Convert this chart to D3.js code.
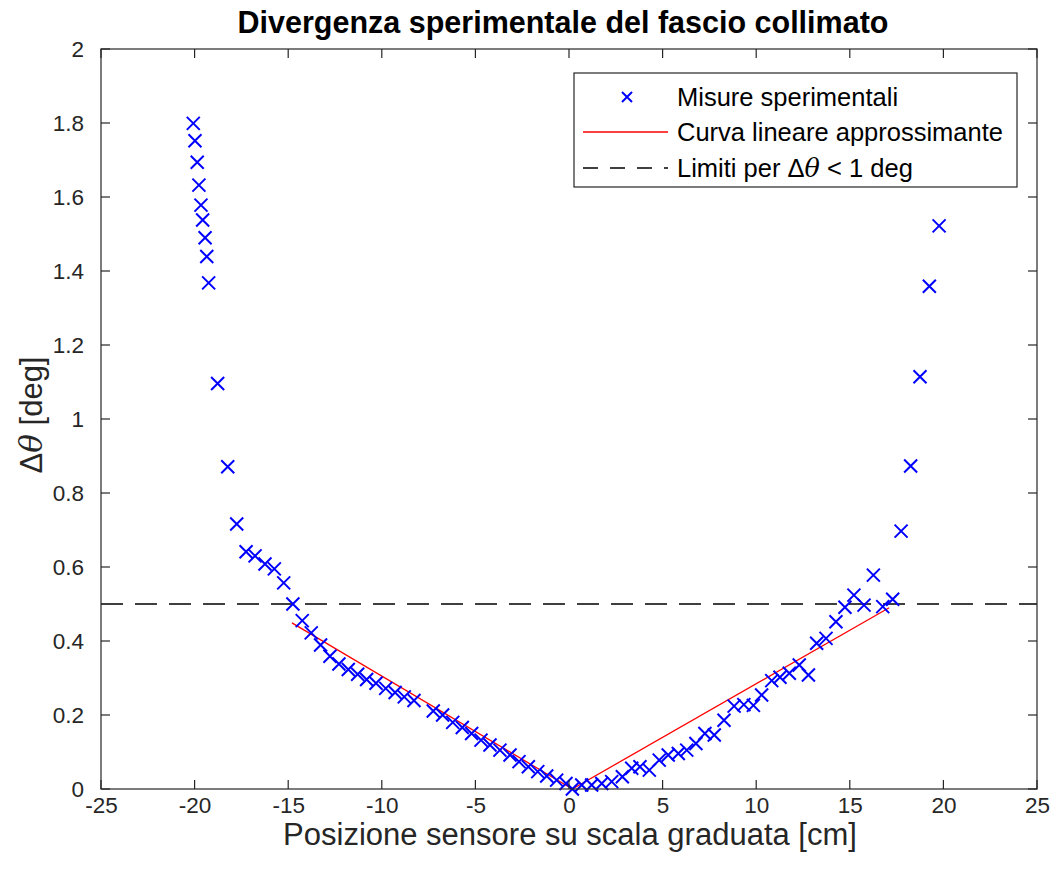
<!DOCTYPE html>
<html><head><meta charset="utf-8">
<script src="https://cdn.jsdelivr.net/npm/d3@7"></script>
<style>body{margin:0;background:#fff;} svg{display:block;}</style>
</head><body>
<svg id="chart" width="1060" height="879"></svg>
<script>
// Data
const posX = [-20.07,-19.98,-19.86,-19.77,-19.66,-19.57,-19.44,-19.35,-19.25,-18.77,-18.23,-17.75,-17.25,-16.77,-16.24,-15.74,-15.24,
  -14.75,-14.25,-13.77,-13.27,-12.77,-12.29,-11.79,-11.29,-10.81,-10.31,-9.79,-9.29,-8.80,-8.28,-7.25,-6.75,-6.21,-5.70,-5.20,-4.70,-4.22,-3.69,-3.15,-2.67,-2.17,-1.67,-1.19,-0.66,-0.16,
  0.18,0.68,1.21,1.75,2.28,2.85,3.35,3.79,4.29,4.82,5.30,5.84,6.29,6.78,7.26,7.76,8.28,8.82,9.34,9.85,10.29,10.83,11.27,11.77,12.30,12.79,13.23,13.73,14.26,14.74,15.22,15.76,16.26,16.76,17.29,17.74,18.25,18.75,19.25,19.77];
const dTheta = [1.799,1.752,1.694,1.632,1.578,1.538,1.490,1.439,1.368,1.096,0.871,0.716,0.641,0.630,0.608,0.595,0.557,
  0.500,0.455,0.422,0.389,0.359,0.338,0.323,0.310,0.296,0.286,0.272,0.261,0.249,0.239,0.211,0.200,0.180,0.166,0.150,0.132,0.119,0.105,0.092,0.074,0.060,0.047,0.035,0.024,0.015,
  0.000,0.011,0.011,0.015,0.020,0.033,0.056,0.060,0.051,0.078,0.092,0.096,0.105,0.123,0.150,0.146,0.186,0.224,0.228,0.226,0.254,0.293,0.302,0.313,0.335,0.308,0.394,0.407,0.452,0.491,0.524,0.497,0.578,0.493,0.513,0.697,0.873,1.114,1.359,1.522];
const fitLeftX = [-14.8, 0.18];
const fitLeftY = [0.449, 0.0];
const fitRightX = [0.18, 17.1];
const fitRightY = [0.0, 0.49];
const limitY = 0.5;
const xTicks = [-25,-20,-15,-10,-5,0,5,10,15,20,25];
const xTickLabels = ["-25","-20","-15","-10","-5","0","5","10","15","20","25"];
const yTicks = [0,0.2,0.4,0.6,0.8,1,1.2,1.4,1.6,1.8,2];
const yTickLabels = ["0","0.2","0.4","0.6","0.8","1","1.2","1.4","1.6","1.8","2"];
const titleText = "Divergenza sperimentale del fascio collimato";
const xLabel = "Posizione sensore su scala graduata [cm]";
const legendLabels = ["Misure sperimentali","Curva lineare approssimante","Limiti per "];

const svg = d3.select("#chart");
const L = 101, R = 1037, T = 49, B = 789;
const x = d3.scaleLinear().domain([-25,25]).range([L,R]);
const y = d3.scaleLinear().domain([0,2]).range([B,T]);
const axisColor = "#262626";
const font = "'Liberation Sans', Arial, sans-serif";

// dashed limit line
svg.append("line").attr("x1",x(-25)).attr("x2",x(25)).attr("y1",y(limitY)).attr("y2",y(limitY))
  .attr("stroke","#000").attr("stroke-width",1.3).attr("stroke-dasharray","22,12");

// fit lines
const line = d3.line().x(d=>x(d[0])).y(d=>y(d[1]));
svg.append("path").datum(fitLeftX.map((v,i)=>[v,fitLeftY[i]])).attr("d",line).attr("fill","none").attr("stroke","#ff0000").attr("stroke-width",1.3);
svg.append("path").datum(fitRightX.map((v,i)=>[v,fitRightY[i]])).attr("d",line).attr("fill","none").attr("stroke","#ff0000").attr("stroke-width",1.3);

// markers
const s = 6.5;
const pts = posX.map((v,i)=>[v,dTheta[i]]);
const mk = svg.append("g").attr("stroke","#0000ff").attr("stroke-width",2).attr("fill","none");
mk.selectAll("path").data(pts).join("path")
  .attr("d",d=>{const cx=x(d[0]),cy=y(d[1]);return `M${cx-s},${cy-s}L${cx+s},${cy+s}M${cx-s},${cy+s}L${cx+s},${cy-s}`;});

// axes
const tl = 9;
const gx = svg.append("g").attr("transform",`translate(0,${B})`).call(d3.axisBottom(x).tickValues(xTicks).tickSize(0).tickPadding(8).tickFormat((d,i)=>xTickLabels[i]));
const gy = svg.append("g").attr("transform",`translate(${L},0)`).call(d3.axisLeft(y).tickValues(yTicks).tickSize(0).tickPadding(17).tickFormat((d,i)=>yTickLabels[i]));
[gx,gy].forEach(g=>{g.select(".domain").remove();g.selectAll("text").attr("font-family",font).attr("font-size",22.5).attr("fill","#262626");});
const ax = svg.append("g").attr("stroke",axisColor).attr("stroke-width",1.2);
ax.append("rect").attr("x",L).attr("y",T).attr("width",R-L).attr("height",B-T).attr("fill","none");
xTicks.forEach(t=>{
  ax.append("line").attr("x1",x(t)).attr("x2",x(t)).attr("y1",B).attr("y2",B-tl);
  ax.append("line").attr("x1",x(t)).attr("x2",x(t)).attr("y1",T).attr("y2",T+tl);
});
yTicks.forEach(t=>{
  ax.append("line").attr("x1",L).attr("x2",L+tl).attr("y1",y(t)).attr("y2",y(t));
  ax.append("line").attr("x1",R).attr("x2",R-tl).attr("y1",y(t)).attr("y2",y(t));
});

// title
svg.append("text").attr("x",(L+R)/2+(-6)).attr("y",33).attr("text-anchor","middle")
  .attr("font-family",font).attr("font-weight","bold").attr("font-size",30.5).attr("fill","#000").text(titleText);
// x label
svg.append("text").attr("x",570).attr("y",845).attr("text-anchor","middle")
  .attr("font-family",font).attr("font-size",31).attr("fill","#262626").text(xLabel);
// y label
const yl = svg.append("text").attr("transform",`translate(42,${415}) rotate(-90)`).attr("text-anchor","middle")
  .attr("font-family",font).attr("font-size",31).attr("fill","#262626");
yl.append("tspan").text("Δ");
yl.append("tspan").attr("font-style","italic").attr("font-family","'DejaVu Serif', serif").text("θ");
yl.append("tspan").text(" [deg]");

// legend
const lg = svg.append("g");
lg.append("rect").attr("x",574).attr("y",73).attr("width",443).attr("height",114).attr("fill","#fff").attr("stroke",axisColor).attr("stroke-width",1.2);
const ly = [97,132,168];
const lxText = 677;
{
  const cx=627, cy=ly[0], ss=5;
  lg.append("path").attr("d",`M${cx-ss},${cy-ss}L${cx+ss},${cy+ss}M${cx-ss},${cy+ss}L${cx+ss},${cy-ss}`).attr("stroke","#0000ff").attr("stroke-width",2);
}
lg.append("line").attr("x1",583).attr("x2",668).attr("y1",ly[1]).attr("y2",ly[1]).attr("stroke","#ff0000").attr("stroke-width",1.3);
lg.append("line").attr("x1",583).attr("x2",668).attr("y1",ly[2]).attr("y2",ly[2]).attr("stroke","#000").attr("stroke-width",1.3).attr("stroke-dasharray","15,12");
legendLabels.forEach((t,i)=>{
  const tx = lg.append("text").attr("x",lxText).attr("y",ly[i]+9).attr("font-family",font).attr("font-size",25.5).attr("fill","#000");
  tx.append("tspan").text(t);
  if(i===2){
    tx.append("tspan").text("Δ");
    tx.append("tspan").attr("font-style","italic").attr("font-family","'DejaVu Serif', serif").text("θ");
    tx.append("tspan").text(" < 1 deg");
  }
});
</script>
</body></html>
